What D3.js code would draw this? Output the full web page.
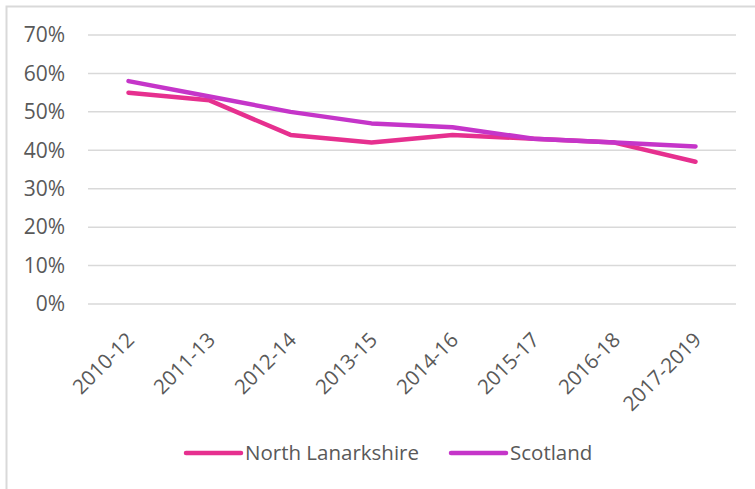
<!DOCTYPE html>
<html>
<head>
<meta charset="utf-8">
<script src="https://cdn.jsdelivr.net/npm/d3@7"></script>
<style>
  body { margin: 0; background: #fff; }
  svg text { font-family: "Open Sans", "Noto Sans", sans-serif; fill: #595959; }
</style>
</head>
<body>
<div id="chart"></div>
<script>
// periods on the x axis
const periods = ["2010-12", "2011-13", "2012-14", "2013-15", "2014-16", "2015-17", "2016-18", "2017-2019"];
// percentages
const northLanarkshire = [55, 53, 44, 42, 44, 43, 42, 37];
const scotland = [58, 54, 50, 47, 46, 43, 42, 41];
const yTicks = [0, 10, 20, 30, 40, 50, 60, 70];

const width = 755;
const height = 489;

const svg = d3.select("#chart")
  .append("svg")
  .attr("width", width)
  .attr("height", height);

// outer chart frame (runs off the right and bottom edge)
svg.append("rect")
  .attr("x", 6.5).attr("y", 6.5)
  .attr("width", 800).attr("height", 520)
  .attr("fill", "none")
  .attr("stroke", "#d9d9d9")
  .attr("stroke-width", 2);

const x = d3.scaleBand()
  .domain(periods)
  .range([88, 736]);

const y = d3.scaleLinear()
  .domain([0, 70])
  .range([304, 35]);

// gridlines
svg.append("g")
  .selectAll("line")
  .data(yTicks)
  .join("line")
    .attr("x1", 88).attr("x2", 736)
    .attr("y1", d => y(d)).attr("y2", d => y(d))
    .attr("stroke", "#d9d9d9")
    .attr("stroke-width", 1.5);

// y labels
svg.append("g")
  .selectAll("text")
  .data(yTicks)
  .join("text")
    .attr("x", 65)
    .attr("y", d => y(d))
    .attr("dy", "0.35em")
    .attr("text-anchor", "end")
    .attr("font-size", 21)
    .text(d => d + "%");

// x labels, rotated 45 degrees
svg.append("g")
  .selectAll("text")
  .data(periods)
  .join("text")
    .attr("font-size", 20.5)
    .attr("text-anchor", "end")
    .attr("transform", d => `translate(${x(d) + x.bandwidth() / 2 - 3},${331}) rotate(-45)`)
    .attr("dy", "0.7em")
    .text(d => d);

const series = [
  { name: "North Lanarkshire", values: northLanarkshire, color: "#e6308f" },
  { name: "Scotland", values: scotland, color: "#c535c9" }
];

const line = d3.line()
  .x((d, i) => x(periods[i]) + x.bandwidth() / 2)
  .y(d => y(d));

svg.append("g")
  .selectAll("path")
  .data(series)
  .join("path")
    .attr("fill", "none")
    .attr("stroke", d => d.color)
    .attr("stroke-width", 4.5)
    .attr("stroke-linecap", "round")
    .attr("stroke-linejoin", "round")
    .attr("d", d => line(d.values));

// legend
const legendX = [186, 451];
const legend = svg.append("g")
  .selectAll("g")
  .data(series)
  .join("g")
    .attr("transform", (d, i) => `translate(${legendX[i]},453)`);

legend.append("line")
  .attr("x1", 0).attr("x2", 55)
  .attr("stroke", d => d.color)
  .attr("stroke-width", 4.5)
  .attr("stroke-linecap", "round");

legend.append("text")
  .attr("x", 59)
  .attr("dy", "0.35em")
  .attr("font-size", 20.5)
  .text(d => d.name);
</script>
</body>
</html>
